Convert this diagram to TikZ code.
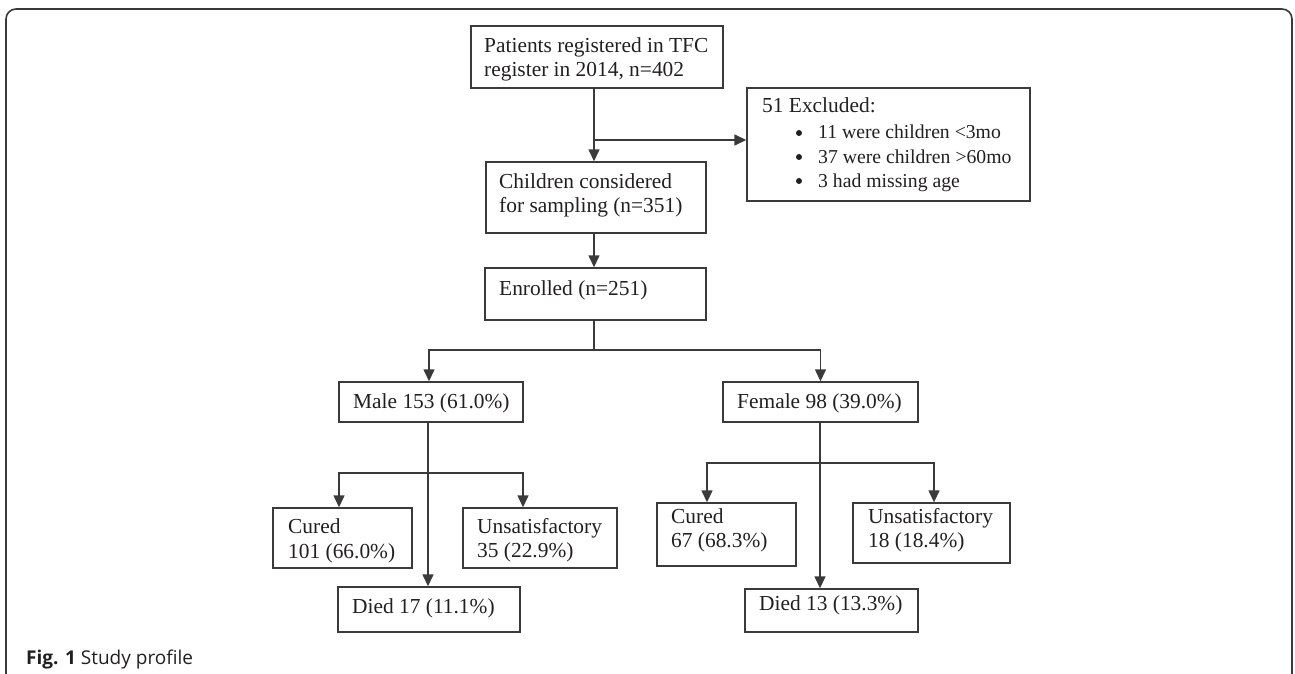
\documentclass[tikz,border=0pt]{standalone}
\usepackage{fontspec}
\setmainfont{Liberation Serif}
\newfontfamily\capfont{Open Sans}
\usetikzlibrary{arrows.meta}
\definecolor{textc}{HTML}{231F20}
\definecolor{linec}{HTML}{3A3A3A}
\begin{document}
\begin{tikzpicture}[x=1pt,y=-1pt,
  box/.style={draw=linec, line width=1.4pt, inner sep=0pt},
  txt/.style={anchor=base west, inner sep=0pt, text=textc, font=\fontsize{21.4}{24}\selectfont},
  itemtxt/.style={txt, font=\fontsize{19.7}{24}\selectfont},
  dot/.style={circle, fill=textc, inner sep=0pt, minimum size=6pt},
  ln/.style={draw=linec, line width=1.4pt},
  arr/.style={ln, -{Triangle[length=12pt,width=11pt]}},
  frame/.style={draw=linec, line width=1.6pt, rounded corners=10pt}
]
\useasboundingbox (0,0) rectangle (1295,674);
\draw[frame] (6,690) -- (6,9) -- (1292,9) -- (1292,690);

% boxes
\node[box, minimum width=252, minimum height=62] (reg) at (597,57) {};
\node[box, minimum width=283, minimum height=113] (excl) at (888.5,144.5) {};
\node[box, minimum width=220, minimum height=71] (cons) at (596,197.5) {};
\node[box, minimum width=221, minimum height=52] (enr) at (595.5,294) {};
\node[box, minimum width=184, minimum height=40] (male) at (431,402) {};
\node[box, minimum width=195, minimum height=40] (female) at (820.5,402) {};
\node[box, minimum width=139, minimum height=60] (mcured) at (342.5,538) {};
\node[box, minimum width=154, minimum height=60] (munsat) at (540,538) {};
\node[box, minimum width=182, minimum height=45] (mdied) at (429,609.5) {};
\node[box, minimum width=139, minimum height=63] (fcured) at (726.5,534.5) {};
\node[box, minimum width=157, minimum height=60] (funsat) at (931.5,533) {};
\node[box, minimum width=173, minimum height=43] (fdied) at (831.5,610.5) {};

% texts
\node[txt] (regt1) at (484,53) {Patients registered in TFC};
\node[txt] (regt2) at (484,77) {register in 2014, n=402};
\node[txt] (exclt0) at (762,113) {51 Excluded:};
\node[dot] (exclb1) at (799,133) {};
\node[dot] (exclb2) at (799,157) {};
\node[dot] (exclb3) at (799,181) {};
\node[itemtxt] (exclt1) at (818,139) {11 were children <3mo};
\node[itemtxt] (exclt2) at (818,163) {37 were children >60mo};
\node[itemtxt] (exclt3) at (818,187) {3 had missing age};
\node[txt] (const1) at (499,188) {Children considered};
\node[txt] (const2) at (499,212) {for sampling (n=351)};
\node[txt] (enrt) at (499,295) {Enrolled (n=251)};
\node[txt] (malet) at (353,408) {Male 153 (61.0\%)};
\node[txt] (femalet) at (737,408) {Female 98 (39.0\%)};
\node[txt] (mcuredt1) at (288,533) {Cured};
\node[txt] (mcuredt2) at (288,558) {101 (66.0\%)};
\node[txt] (munsatt1) at (477,533) {Unsatisfactory};
\node[txt] (munsatt2) at (477,557) {35 (22.9\%)};
\node[txt] (mdiedt) at (352,613) {Died 17 (11.1\%)};
\node[txt] (fcuredt1) at (671,523) {Cured};
\node[txt] (fcuredt2) at (671,547) {67 (68.3\%)};
\node[txt] (funsatt1) at (868,523) {Unsatisfactory};
\node[txt] (funsatt2) at (868,547) {18 (18.4\%)};
\node[txt] (fdiedt) at (759,610) {Died 13 (13.3\%)};
\node[anchor=base west, inner sep=0pt, text=textc, font=\capfont\fontsize{19}{22}\selectfont] (cap) at (26,664) {\textbf{Fig. 1} Study profile};

% connectors
\coordinate (j1) at (594,140);
\draw[arr] (reg.south -| j1) -- (cons.north -| j1);
\draw[arr] (j1) -- (j1 -| excl.west);
\draw[arr] (cons.south -| j1) -- (enr.north -| j1);
\coordinate (j2) at (594,350);
\coordinate (mx) at (429,0);
\draw[ln] (enr.south -| j2) -- (j2);
\draw[arr] (j2) -| (male.north -| mx);
\draw[arr] (j2) -| (female.north);
\coordinate (j3) at (428,473);
\coordinate (mcx) at (339,0);
\coordinate (mux) at (523,0);
\draw[arr] (male.south -| j3) -- (mdied.north -| j3);
\draw[arr] (j3) -| (mcured.north -| mcx);
\draw[arr] (j3) -| (munsat.north -| mux);
\coordinate (j4) at (820,463);
\coordinate (fcx) at (707,0);
\coordinate (fux) at (934,0);
\draw[arr] (female.south -| j4) -- (fdied.north -| j4);
\draw[arr] (j4) -| (fcured.north -| fcx);
\draw[arr] (j4) -| (funsat.north -| fux);
\end{tikzpicture}
\end{document}
